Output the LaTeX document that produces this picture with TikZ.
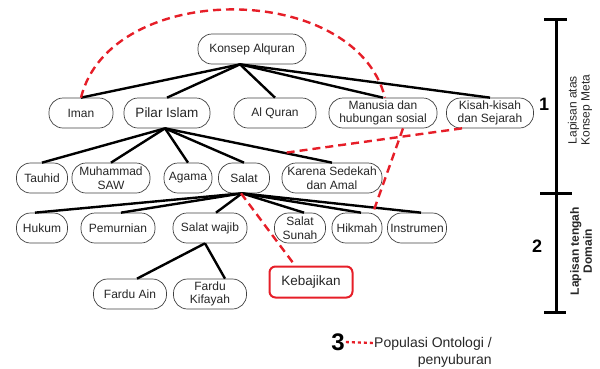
\documentclass[tikz,border=0pt]{standalone}
\usepackage{fontspec}
\setmainfont{Liberation Sans}
\usepackage{tikz}
\usetikzlibrary{positioning, calc}
\definecolor{popred}{RGB}{230,30,40}

\begin{document}
\begin{tikzpicture}[x=1pt, y=-1pt, >=latex,
					pill/.style={rectangle, draw=black!75, line width=0.7pt, rounded corners=14pt, minimum height=30pt, inner sep=1pt, align=center, text=black!85, font=\fontsize{12}{13.5}\selectfont},
					big/.style={font=\fontsize{13.5}{15}\selectfont},
					kotak/.style={rectangle, draw=popred, line width=2pt, rounded corners=6pt, minimum height=31pt, minimum width=83pt, text=black!85, font=\fontsize{13.5}{15}\selectfont},
					link/.style={line width=2.4pt},
					populasi/.style={draw=popred, line width=2.4pt, dash pattern=on 8pt off 5pt},
					bar/.style={line width=3pt},
					layer/.style={font=\bfseries\fontsize{18}{20}\selectfont}
				]
					\useasboundingbox (0,0) rectangle (600,368);
					
					% Nodes
					\node[pill, minimum width=108pt] (alquran) at (252,49) {Konsep Alquran};
					
					\node[pill, minimum width=64pt] (iman) at (81,113) {Iman};
					\node[pill, big, minimum width=86pt] (pilar) at (167,113) {Pilar Islam};
					\node[pill, minimum width=82pt] (quran) at (275,113) {Al Quran};
					\node[pill, minimum width=108pt] (manusia) at (383,113) {Manusia dan\\hubungan sosial};
					\node[pill, minimum width=87pt] (kisah) at (490,113) {Kisah-kisah\\dan Sejarah};
					
					\node[pill, minimum width=51pt] (tauhid) at (42,178) {Tauhid};
					\node[pill, minimum width=78pt] (muhammad) at (111,178) {Muhammad\\SAW};
					\node[pill, minimum width=48pt] (agama) at (188,178) {Agama};
					\node[pill, minimum width=51pt] (salat) at (244,178) {Salat};
					\node[pill, minimum width=100pt] (karena) at (332,178) {Karena Sedekah\\dan Amal};
					
					\node[pill, minimum width=51pt] (hukum) at (42,228) {Hukum};
					\node[pill, minimum width=74pt] (pemurnian) at (118,228) {Pemurnian};
					\node[pill, minimum width=74pt] (wajib) at (210,228) {Salat wajib};
					\node[pill, minimum width=51pt] (sunah) at (300,228) {Salat\\Sunah};
					\node[pill, minimum width=50pt] (hikmah) at (357,228) {Hikmah};
					\node[pill, minimum width=59pt] (instrumen) at (417,228) {Instrumen};
					
					\node[pill, minimum width=73pt] (ain) at (130,294) {Fardu Ain};
					\node[pill, minimum width=73pt] (kifayah) at (210,294) {Fardu\\Kifayah};
					
					\node[kotak] (kebajikan) at (311,282) {Kebajikan};
					
					% Links
					\foreach \n in {iman, pilar, quran, manusia, kisah}
						\draw[link] ([xshift=-12pt]alquran.south) -- (\n.north);
					\foreach \n in {tauhid, muhammad, agama, salat, karena}
						\draw[link] ([xshift=-2pt]pilar.south) -- (\n.north);
					\draw[link] ([xshift=-2pt]salat.south) -- ([xshift=-7pt]hukum.north);
					\draw[link] ([xshift=-2pt]salat.south) -- ([xshift=3pt]pemurnian.north);
					\draw[link] ([xshift=-2pt]salat.south) -- ([xshift=6pt]wajib.north);
					\foreach \n in {sunah, hikmah, instrumen}
						\draw[link] ([xshift=-2pt]salat.south) -- ([xshift=4pt]\n.north);
					\draw[link] ([xshift=-5pt]wajib.south) -- ([xshift=7pt]ain.north);
					\draw[link] ([xshift=-5pt]wajib.south) -- ([xshift=15pt]kifayah.north);
					
					% Populasi
					\coordinate (meet) at ($([xshift=-2pt]pilar.south)!0.715!(karena.north)$);
					\draw[populasi] (iman.north) .. controls (110,-20) and (355,-20) .. ([xshift=2pt]manusia.north);
					\draw[populasi] ([xshift=-28pt]kisah.south) -- (meet);
					\draw[populasi] ([xshift=20pt]manusia.south) -- ([xshift=16pt]hikmah.north);
					\draw[populasi] ([xshift=-3pt]salat.south) -- ([xshift=-16pt]kebajikan.north);
					
					% Lapisan
					\draw[bar] (556,19) -- (556,312);
					\draw[bar] (544,19) -- (567,19);
					\draw[bar] (540,193) -- (572,193);
					\draw[bar] (544,312) -- (566,312);
					\node[layer] (satu) at (544,104) {1};
					\node[layer] (dua) at (537,246) {2};
					\node[rotate=90, align=center, text=black!85, font=\fontsize{12}{13}\selectfont] (atas) at (580,110) {Lapisan atas\\Konsep Meta};
					\node[rotate=90, align=center, text=black!85, font=\bfseries\fontsize{12}{13}\selectfont] (tengah) at (581,251) {Lapisan tengah\\Domain};
					
					% Legend
					\node[font=\bfseries\fontsize{24}{26}\selectfont, inner sep=1pt] (tiga) at (338,342) {3};
					\node[align=right, anchor=west, inner sep=1pt, text=black!85, font=\fontsize{14}{17}\selectfont] (ket) at (373,352) {Populasi Ontologi /\\penyuburan};
					\draw[draw=popred, line width=2.4pt, dash pattern=on 3pt off 3pt] (tiga.east) -- ([yshift=9pt]ket.west);
				\end{tikzpicture}
\end{document}
